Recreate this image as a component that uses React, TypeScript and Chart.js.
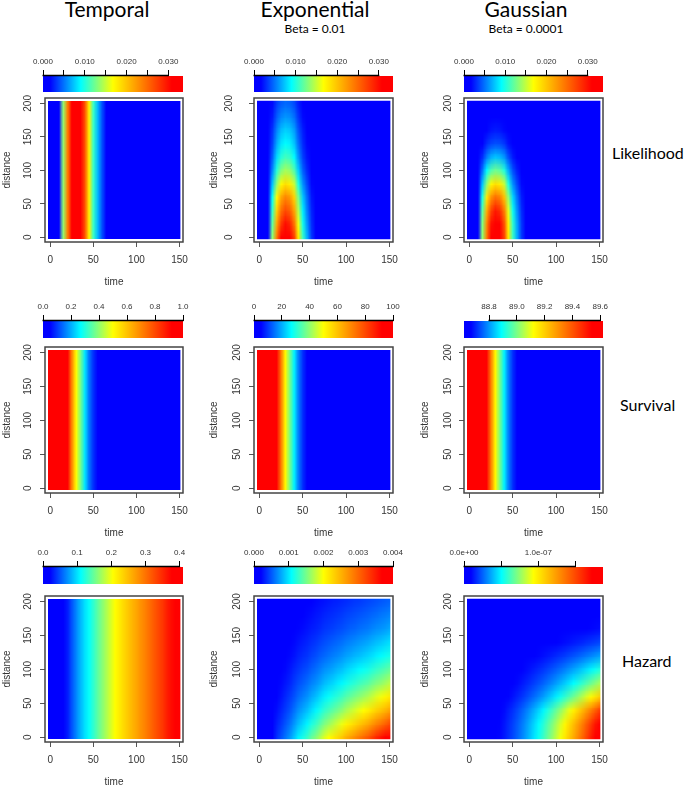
import { useEffect, useRef } from "react";
import { Chart, registerables } from "chart.js";

Chart.register(...registerables);

// ---------------- grids and axis ticks ----------------
const timePoints = [0, 5, 10, 15, 20, 25, 30, 35, 40, 45, 50, 55, 60, 65, 70, 75, 80, 85, 90, 95, 100, 105, 110, 115, 120, 125, 130, 135, 140, 145, 150];
const distancePoints = [0, 20, 40, 60, 80, 100, 120, 140, 160, 180, 200];
const timeAxisTicks = [0, 50, 100, 150];
const distanceAxisTicks = [0, 50, 100, 150, 200];

// ---------------- Likelihood (values in units of 1e-3) ----------------
const temporalLikelihoodE3 = [0, 0, 0, 13.4, 24.0, 31.0, 33.5, 32.0, 26.5, 17.5, 10.7, 7.0, 4.0, 1.7, 0.5, 0, 0, 0, 0, 0, 0, 0, 0, 0, 0, 0, 0, 0, 0, 0, 0];

const expLikelihoodE3 = [
  [0, 0, 0, 13.4, 24.0, 30.7, 33.4, 32.1, 27.4, 18.0, 10.7, 6.7, 3.3, 1.3, 0.3, 0, 0, 0, 0, 0, 0, 0, 0, 0, 0, 0, 0, 0, 0, 0, 0],
  [0, 0, 0, 12.0, 21.6, 27.7, 30.1, 28.9, 24.7, 16.2, 9.6, 6.0, 3.0, 1.2, 0.3, 0, 0, 0, 0, 0, 0, 0, 0, 0, 0, 0, 0, 0, 0, 0, 0],
  [0, 0, 0, 10.7, 19.2, 24.6, 26.7, 25.6, 21.9, 14.4, 8.6, 5.3, 2.7, 1.1, 0.3, 0, 0, 0, 0, 0, 0, 0, 0, 0, 0, 0, 0, 0, 0, 0, 0],
  [0, 0, 0, 9.4, 16.8, 21.5, 23.4, 22.4, 19.2, 12.6, 7.5, 4.7, 2.3, 0.9, 0.2, 0, 0, 0, 0, 0, 0, 0, 0, 0, 0, 0, 0, 0, 0, 0, 0],
  [0, 0, 0, 7.3, 13.2, 16.9, 18.4, 17.6, 15.1, 9.9, 5.9, 3.7, 1.8, 0.7, 0.2, 0, 0, 0, 0, 0, 0, 0, 0, 0, 0, 0, 0, 0, 0, 0, 0],
  [0, 0, 0, 5.6, 10.1, 12.9, 14.0, 13.5, 11.5, 7.6, 4.5, 2.8, 1.4, 0.6, 0.1, 0, 0, 0, 0, 0, 0, 0, 0, 0, 0, 0, 0, 0, 0, 0, 0],
  [0, 0, 0, 4.4, 7.9, 10.1, 11.0, 10.6, 9.0, 6.0, 3.5, 2.2, 1.1, 0.4, 0.1, 0, 0, 0, 0, 0, 0, 0, 0, 0, 0, 0, 0, 0, 0, 0, 0],
  [0, 0, 0, 3.6, 6.5, 8.3, 9.0, 8.7, 7.4, 4.9, 2.9, 1.8, 0.9, 0.4, 0.1, 0, 0, 0, 0, 0, 0, 0, 0, 0, 0, 0, 0, 0, 0, 0, 0],
  [0, 0, 0, 3.1, 5.5, 7.1, 7.7, 7.4, 6.3, 4.1, 2.5, 1.5, 0.8, 0.3, 0.1, 0, 0, 0, 0, 0, 0, 0, 0, 0, 0, 0, 0, 0, 0, 0, 0],
  [0, 0, 0, 2.4, 4.3, 5.5, 6.0, 5.8, 4.9, 3.2, 1.9, 1.2, 0.6, 0.2, 0.1, 0, 0, 0, 0, 0, 0, 0, 0, 0, 0, 0, 0, 0, 0, 0, 0],
  [0, 0, 0, 1.9, 3.4, 4.3, 4.7, 4.5, 3.8, 2.5, 1.5, 0.9, 0.5, 0.2, 0, 0, 0, 0, 0, 0, 0, 0, 0, 0, 0, 0, 0, 0, 0, 0, 0],
];

const gaussLikelihoodE3 = [
  [0, 0, 0, 13.5, 24.3, 31.0, 33.7, 32.4, 27.6, 18.2, 10.8, 6.7, 3.4, 1.3, 0.3, 0, 0, 0, 0, 0, 0, 0, 0, 0, 0, 0, 0, 0, 0, 0, 0],
  [0, 0, 0, 13.1, 23.5, 30.1, 32.7, 31.4, 26.8, 17.7, 10.5, 6.5, 3.3, 1.3, 0.3, 0, 0, 0, 0, 0, 0, 0, 0, 0, 0, 0, 0, 0, 0, 0, 0],
  [0, 0, 0, 11.9, 21.3, 27.3, 29.7, 28.5, 24.3, 16.0, 9.5, 5.9, 3.0, 1.2, 0.3, 0, 0, 0, 0, 0, 0, 0, 0, 0, 0, 0, 0, 0, 0, 0, 0],
  [0, 0, 0, 10.0, 18.0, 22.9, 24.9, 23.9, 20.4, 13.5, 8.0, 5.0, 2.5, 1.0, 0.3, 0, 0, 0, 0, 0, 0, 0, 0, 0, 0, 0, 0, 0, 0, 0, 0],
  [0, 0, 0, 7.4, 13.3, 17.1, 18.5, 17.8, 15.2, 10.0, 5.9, 3.7, 1.9, 0.7, 0.2, 0, 0, 0, 0, 0, 0, 0, 0, 0, 0, 0, 0, 0, 0, 0, 0],
  [0, 0, 0, 5.0, 9.0, 11.5, 12.5, 12.0, 10.2, 6.7, 4.0, 2.5, 1.2, 0.5, 0.1, 0, 0, 0, 0, 0, 0, 0, 0, 0, 0, 0, 0, 0, 0, 0, 0],
  [0, 0, 0, 3.0, 5.3, 6.8, 7.4, 7.1, 6.1, 4.0, 2.4, 1.5, 0.7, 0.3, 0.1, 0, 0, 0, 0, 0, 0, 0, 0, 0, 0, 0, 0, 0, 0, 0, 0],
  [0, 0, 0, 1.6, 2.9, 3.7, 4.0, 3.9, 3.3, 2.2, 1.3, 0.8, 0.4, 0.2, 0, 0, 0, 0, 0, 0, 0, 0, 0, 0, 0, 0, 0, 0, 0, 0, 0],
  [0, 0, 0, 0.9, 1.7, 2.2, 2.4, 2.3, 1.9, 1.3, 0.8, 0.5, 0.2, 0.1, 0, 0, 0, 0, 0, 0, 0, 0, 0, 0, 0, 0, 0, 0, 0, 0, 0],
  [0, 0, 0, 0.5, 1.0, 1.2, 1.3, 1.3, 1.1, 0.7, 0.4, 0.3, 0.1, 0, 0, 0, 0, 0, 0, 0, 0, 0, 0, 0, 0, 0, 0, 0, 0, 0, 0],
  [0, 0, 0, 0.3, 0.5, 0.6, 0.7, 0.6, 0.6, 0.4, 0.2, 0.1, 0.1, 0, 0, 0, 0, 0, 0, 0, 0, 0, 0, 0, 0, 0, 0, 0, 0, 0, 0],
];

// ---------------- Survival ----------------
const temporalSurvival = [1.0, 1.0, 0.99, 0.97, 0.92, 0.70, 0.50, 0.38, 0.25, 0.15, 0.09, 0.04, 0.02, 0.01, 0, 0, 0, 0, 0, 0, 0, 0, 0, 0, 0, 0, 0, 0, 0, 0, 0];
const expSurvival = [100, 100, 99, 97, 93, 72, 51, 38, 26, 16, 9, 4, 2, 1, 0, 0, 0, 0, 0, 0, 0, 0, 0, 0, 0, 0, 0, 0, 0, 0, 0];
const gaussSurvival = [89.62, 89.62, 89.61, 89.59, 89.54, 89.33, 89.13, 89.0, 88.88, 88.78, 88.71, 88.66, 88.64, 88.63, 88.62, 88.62, 88.62, 88.62, 88.62, 88.62, 88.62, 88.62, 88.62, 88.62, 88.62, 88.62, 88.62, 88.62, 88.62, 88.62, 88.62];

// ---------------- Hazard ----------------
const temporalHazard = [0, 0, 0.005, 0.015, 0.03, 0.05, 0.068, 0.085, 0.1, 0.113, 0.128, 0.145, 0.16, 0.175, 0.19, 0.205, 0.217, 0.23, 0.242, 0.254, 0.266, 0.279, 0.29, 0.303, 0.316, 0.328, 0.34, 0.356, 0.369, 0.381, 0.394];

// units of 1e-3
const expHazardE3 = [
  [0, 0.04, 0.08, 0.2, 0.36, 0.48, 0.6, 0.72, 0.88, 1.04, 1.16, 1.28, 1.44, 1.56, 1.72, 1.88, 2.0, 2.12, 2.24, 2.36, 2.52, 2.64, 2.76, 2.88, 3.0, 3.12, 3.28, 3.44, 3.56, 3.72, 3.88],
  [0, 0.03, 0.07, 0.16, 0.3, 0.39, 0.49, 0.59, 0.72, 0.85, 0.95, 1.05, 1.18, 1.28, 1.41, 1.54, 1.64, 1.74, 1.84, 1.94, 2.07, 2.16, 2.26, 2.36, 2.46, 2.56, 2.69, 2.82, 2.92, 3.05, 3.18],
  [0, 0.03, 0.05, 0.13, 0.24, 0.32, 0.4, 0.48, 0.59, 0.7, 0.78, 0.86, 0.96, 1.05, 1.15, 1.26, 1.34, 1.42, 1.5, 1.58, 1.69, 1.77, 1.85, 1.93, 2.01, 2.09, 2.2, 2.3, 2.39, 2.49, 2.6],
  [0, 0.02, 0.04, 0.11, 0.2, 0.26, 0.33, 0.4, 0.48, 0.57, 0.64, 0.7, 0.79, 0.86, 0.95, 1.03, 1.1, 1.17, 1.23, 1.3, 1.39, 1.45, 1.52, 1.58, 1.65, 1.72, 1.8, 1.89, 1.96, 2.05, 2.13],
  [0, 0.02, 0.04, 0.09, 0.16, 0.22, 0.27, 0.32, 0.4, 0.47, 0.52, 0.58, 0.65, 0.7, 0.77, 0.85, 0.9, 0.95, 1.01, 1.06, 1.13, 1.19, 1.24, 1.3, 1.35, 1.4, 1.48, 1.55, 1.6, 1.67, 1.75],
  [0, 0.01, 0.03, 0.07, 0.13, 0.18, 0.22, 0.27, 0.33, 0.38, 0.43, 0.47, 0.53, 0.58, 0.64, 0.7, 0.74, 0.78, 0.83, 0.87, 0.93, 0.98, 1.02, 1.07, 1.11, 1.15, 1.21, 1.27, 1.32, 1.38, 1.44],
  [0, 0.01, 0.02, 0.06, 0.11, 0.14, 0.18, 0.22, 0.26, 0.31, 0.35, 0.38, 0.43, 0.47, 0.52, 0.56, 0.6, 0.64, 0.67, 0.71, 0.76, 0.79, 0.83, 0.86, 0.9, 0.94, 0.98, 1.03, 1.07, 1.12, 1.16],
  [0, 0.01, 0.02, 0.05, 0.09, 0.12, 0.15, 0.18, 0.22, 0.26, 0.29, 0.32, 0.36, 0.39, 0.43, 0.47, 0.5, 0.53, 0.56, 0.59, 0.63, 0.66, 0.69, 0.72, 0.75, 0.78, 0.82, 0.86, 0.89, 0.93, 0.97],
  [0, 0.01, 0.02, 0.04, 0.07, 0.1, 0.12, 0.14, 0.18, 0.21, 0.23, 0.26, 0.29, 0.31, 0.34, 0.38, 0.4, 0.42, 0.45, 0.47, 0.5, 0.53, 0.55, 0.58, 0.6, 0.62, 0.66, 0.69, 0.71, 0.74, 0.78],
  [0, 0.01, 0.01, 0.03, 0.06, 0.08, 0.1, 0.12, 0.15, 0.18, 0.2, 0.22, 0.24, 0.27, 0.29, 0.32, 0.34, 0.36, 0.38, 0.4, 0.43, 0.45, 0.47, 0.49, 0.51, 0.53, 0.56, 0.58, 0.61, 0.63, 0.66],
  [0, 0.01, 0.01, 0.03, 0.05, 0.07, 0.08, 0.1, 0.12, 0.15, 0.16, 0.18, 0.2, 0.22, 0.24, 0.26, 0.28, 0.3, 0.31, 0.33, 0.35, 0.37, 0.39, 0.4, 0.42, 0.44, 0.46, 0.48, 0.5, 0.52, 0.54],
];

// units of 1e-8
const gaussHazardE8 = [
  [0, 0, 0.09, 0.19, 0.34, 0.52, 0.75, 1.01, 1.31, 1.68, 2.06, 2.51, 2.99, 3.52, 4.08, 4.68, 5.31, 5.98, 6.73, 7.48, 8.3, 9.16, 10.06, 11.0, 11.97, 12.98, 14.03, 15.15, 16.27, 17.47, 18.7],
  [0, 0, 0.09, 0.18, 0.32, 0.49, 0.71, 0.96, 1.24, 1.6, 1.96, 2.38, 2.84, 3.34, 3.88, 4.45, 5.04, 5.68, 6.39, 7.11, 7.89, 8.7, 9.56, 10.45, 11.37, 12.33, 13.33, 14.39, 15.46, 16.6, 17.77],
  [0, 0, 0.07, 0.16, 0.28, 0.43, 0.62, 0.83, 1.07, 1.38, 1.69, 2.06, 2.45, 2.89, 3.35, 3.84, 4.35, 4.9, 5.52, 6.13, 6.81, 7.51, 8.25, 9.02, 9.82, 10.64, 11.5, 12.42, 13.34, 14.33, 15.33],
  [0, 0, 0.05, 0.11, 0.2, 0.3, 0.44, 0.59, 0.76, 0.97, 1.19, 1.46, 1.73, 2.04, 2.37, 2.71, 3.08, 3.47, 3.9, 4.34, 4.81, 5.31, 5.83, 6.38, 6.94, 7.53, 8.14, 8.79, 9.44, 10.13, 10.85],
  [0, 0, 0.04, 0.08, 0.14, 0.22, 0.32, 0.42, 0.55, 0.71, 0.87, 1.05, 1.26, 1.48, 1.71, 1.97, 2.23, 2.51, 2.83, 3.14, 3.49, 3.85, 4.23, 4.62, 5.03, 5.45, 5.89, 6.36, 6.83, 7.34, 7.85],
  [0, 0, 0.03, 0.06, 0.1, 0.16, 0.23, 0.3, 0.39, 0.5, 0.62, 0.75, 0.9, 1.06, 1.22, 1.4, 1.59, 1.79, 2.02, 2.24, 2.49, 2.75, 3.02, 3.3, 3.59, 3.89, 4.21, 4.55, 4.88, 5.24, 5.61],
  [0, 0, 0.02, 0.04, 0.06, 0.1, 0.14, 0.19, 0.25, 0.32, 0.39, 0.48, 0.57, 0.67, 0.78, 0.89, 1.01, 1.14, 1.28, 1.42, 1.58, 1.74, 1.91, 2.09, 2.27, 2.47, 2.67, 2.88, 3.09, 3.32, 3.55],
  [0, 0, 0.01, 0.02, 0.04, 0.06, 0.08, 0.11, 0.14, 0.18, 0.23, 0.28, 0.33, 0.39, 0.45, 0.51, 0.58, 0.66, 0.74, 0.82, 0.91, 1.01, 1.11, 1.21, 1.32, 1.43, 1.54, 1.67, 1.79, 1.92, 2.06],
  [0, 0, 0.01, 0.01, 0.02, 0.03, 0.05, 0.06, 0.08, 0.1, 0.12, 0.15, 0.18, 0.21, 0.24, 0.28, 0.32, 0.36, 0.4, 0.45, 0.5, 0.55, 0.6, 0.66, 0.72, 0.78, 0.84, 0.91, 0.98, 1.05, 1.12],
  [0, 0, 0, 0.01, 0.01, 0.02, 0.02, 0.03, 0.04, 0.05, 0.06, 0.08, 0.09, 0.11, 0.12, 0.14, 0.16, 0.18, 0.2, 0.22, 0.25, 0.27, 0.3, 0.33, 0.36, 0.39, 0.42, 0.45, 0.49, 0.52, 0.56],
  [0, 0, 0, 0, 0.01, 0.01, 0.01, 0.02, 0.02, 0.03, 0.03, 0.04, 0.04, 0.05, 0.06, 0.07, 0.08, 0.09, 0.1, 0.11, 0.12, 0.14, 0.15, 0.17, 0.18, 0.19, 0.21, 0.23, 0.24, 0.26, 0.28],
];

// ---------------- colour-bar ranges, ticks and labels ----------------
const temporalLikelihoodRange = [0, 33.5];
const expLikelihoodRange = [0, 33.4];
const gaussLikelihoodRange = [0, 33.7];
const likelihoodBarTicks = [0, 5, 10, 15, 20, 25, 30];
const likelihoodBarLabels = ["0.000", "", "0.010", "", "0.020", "", "0.030"];

const temporalSurvivalRange = [0, 1.0];
const temporalSurvivalBarTicks = [0, 0.2, 0.4, 0.6, 0.8, 1.0];
const temporalSurvivalBarLabels = ["0.0", "0.2", "0.4", "0.6", "0.8", "1.0"];
const expSurvivalRange = [0, 100];
const expSurvivalBarTicks = [0, 20, 40, 60, 80, 100];
const expSurvivalBarLabels = ["0", "20", "40", "60", "80", "100"];
const gaussSurvivalRange = [88.62, 89.62];
const gaussSurvivalBarTicks = [88.8, 89.0, 89.2, 89.4, 89.6];
const gaussSurvivalBarLabels = ["88.8", "89.0", "89.2", "89.4", "89.6"];

const temporalHazardRange = [0, 0.41];
const temporalHazardBarTicks = [0, 0.1, 0.2, 0.3, 0.4];
const temporalHazardBarLabels = ["0.0", "0.1", "0.2", "0.3", "0.4"];
const expHazardRange = [0, 4.0];
const expHazardBarTicks = [0, 1, 2, 3, 4];
const expHazardBarLabels = ["0.000", "0.001", "0.002", "0.003", "0.004"];
const gaussHazardRange = [0, 18.7];
const gaussHazardBarTicks = [0, 5, 10, 15];
const gaussHazardBarLabels = ["0.0e+00", "", "1.0e-07", ""];

const columnTitles = ["Temporal", "Exponential", "Gaussian"];
const columnSubtitles = ["", "Beta = 0.01", "Beta = 0.0001"];
const rowTitles = ["Likelihood", "Survival", "Hazard"];

// ---------------- styling / layout ----------------
const AXIS_FONT = '"Liberation Sans", Arial, Helvetica, sans-serif';
const TITLE_FONT = 'Lato, "Open Sans", sans-serif';

const PALETTE = [
  [0, 0, 0, 255],
  [0.05, 0, 0, 255],
  [0.27, 0, 255, 255],
  [0.5, 255, 255, 0],
  [0.92, 255, 0, 0],
  [1, 255, 0, 0],
];

const FRAME_X = [[45, 183], [254, 393], [464, 603]];
const FRAME_Y = [[98, 242], [347, 493], [596, 742]];
const BAR_X = [[43, 183], [254, 393], [464, 603]];
const BAR_Y = [[76, 92], [321, 338], [567, 584]];
const Y_AXIS_W = [44, 46, 45];
// gap from frame left edge to the centre of the rotated y tick labels, per [row][col]
const Y_LABEL_GAP = [
  [17, 25, 16],
  [17, 17, 16],
  [17, 17, 16],
];
const X_AXIS_H = 46;
const PAD_T = 10;
const PAD_R = 14;
const CB_AXIS_H = 22;
const CB_PAD = 26;
const FRAME_T_RANGE = [-6, 154];
const FRAME_D_RANGE = [-7, 208];
const COLOR_T = [-3, 151];
const COLOR_D = [-3, 204];

type PanelDef = {
  row: number;
  col: number;
  values: number[] | number[][];
  range: number[];
  barTicks: number[];
  barLabels: string[];
};

const PANELS: PanelDef[] = [
  { row: 0, col: 0, values: temporalLikelihoodE3, range: temporalLikelihoodRange, barTicks: likelihoodBarTicks, barLabels: likelihoodBarLabels },
  { row: 0, col: 1, values: expLikelihoodE3, range: expLikelihoodRange, barTicks: likelihoodBarTicks, barLabels: likelihoodBarLabels },
  { row: 0, col: 2, values: gaussLikelihoodE3, range: gaussLikelihoodRange, barTicks: likelihoodBarTicks, barLabels: likelihoodBarLabels },
  { row: 1, col: 0, values: temporalSurvival, range: temporalSurvivalRange, barTicks: temporalSurvivalBarTicks, barLabels: temporalSurvivalBarLabels },
  { row: 1, col: 1, values: expSurvival, range: expSurvivalRange, barTicks: expSurvivalBarTicks, barLabels: expSurvivalBarLabels },
  { row: 1, col: 2, values: gaussSurvival, range: gaussSurvivalRange, barTicks: gaussSurvivalBarTicks, barLabels: gaussSurvivalBarLabels },
  { row: 2, col: 0, values: temporalHazard, range: temporalHazardRange, barTicks: temporalHazardBarTicks, barLabels: temporalHazardBarLabels },
  { row: 2, col: 1, values: expHazardE3, range: expHazardRange, barTicks: expHazardBarTicks, barLabels: expHazardBarLabels },
  { row: 2, col: 2, values: gaussHazardE8, range: gaussHazardRange, barTicks: gaussHazardBarTicks, barLabels: gaussHazardBarLabels },
];

function paletteRGB(p: number): number[] {
  const q = Math.min(1, Math.max(0, p));
  for (let i = 1; i < PALETTE.length; i++) {
    const a = PALETTE[i - 1];
    const b = PALETTE[i];
    if (q <= b[0]) {
      const f = b[0] === a[0] ? 0 : (q - a[0]) / (b[0] - a[0]);
      return [
        Math.round(a[1] + (b[1] - a[1]) * f),
        Math.round(a[2] + (b[2] - a[2]) * f),
        Math.round(a[3] + (b[3] - a[3]) * f),
      ];
    }
  }
  return [255, 0, 0];
}

function cellEdges(pts: number[], i: number): [number, number] {
  const lo = i === 0 ? pts[0] - (pts[1] - pts[0]) / 2 : (pts[i - 1] + pts[i]) / 2;
  const hi = i === pts.length - 1 ? pts[i] + (pts[i] - pts[i - 1]) / 2 : (pts[i] + pts[i + 1]) / 2;
  return [lo, hi];
}

type Cell = { x: number; y: number; v: number; i: number; j: number };

function buildCells(values: number[] | number[][]): { cells: Cell[]; rows: number } {
  const cells: Cell[] = [];
  if (!Array.isArray(values[0])) {
    const vals = values as number[];
    timePoints.forEach((t, i) => cells.push({ x: t, y: 100, v: vals[i], i, j: 0 }));
    return { cells, rows: 1 };
  }
  const grid = values as number[][];
  distancePoints.forEach((d, j) => {
    timePoints.forEach((t, i) => cells.push({ x: t, y: d, v: grid[j][i], i, j }));
  });
  return { cells, rows: distancePoints.length };
}

function Panel({ def }: { def: PanelDef }) {
  const heatRef = useRef<HTMLCanvasElement>(null);
  const barRef = useRef<HTMLCanvasElement>(null);
  const { row, col } = def;
  const [fl, fr] = FRAME_X[col];
  const [ft, fb] = FRAME_Y[row];
  const yW = Y_AXIS_W[col];
  const heatBox = { left: fl - yW, top: ft - PAD_T, width: yW + (fr - fl) + PAD_R, height: PAD_T + (fb - ft) + X_AXIS_H };
  const [bl, br] = BAR_X[col];
  const [bt, bb] = BAR_Y[row];
  const barBox = { left: bl - CB_PAD, top: bt - CB_AXIS_H, width: br - bl + 2 * CB_PAD, height: CB_AXIS_H + (bb - bt) };

  useEffect(() => {
    const zmin = def.range[0];
    const zmax = def.range[1];
    const { cells, rows } = buildCells(def.values);
    const cols = timePoints.length;
    const tSpan = [cellEdges(timePoints, 0)[0], cellEdges(timePoints, cols - 1)[1]];
    const dSpan = rows === 1 ? COLOR_D : [cellEdges(distancePoints, 0)[0], cellEdges(distancePoints, rows - 1)[1]];

    // one raster pixel per data cell
    const raster = document.createElement("canvas");
    raster.width = cols;
    raster.height = rows;
    let rasterReady = false;

    const heatPlugin = {
      id: "heatCells",
      beforeDatasetsDraw(chart: any) {
        const { ctx } = chart;
        const xs = chart.scales.x;
        const ys = chart.scales.y;
        if (!rasterReady) {
          const rctx = raster.getContext("2d") as CanvasRenderingContext2D;
          const img = rctx.createImageData(cols, rows);
          for (const c of chart.data.datasets[0].data as Cell[]) {
            const rgb = paletteRGB((c.v - zmin) / (zmax - zmin));
            const k = ((rows - 1 - c.j) * cols + c.i) * 4;
            img.data[k] = rgb[0];
            img.data[k + 1] = rgb[1];
            img.data[k + 2] = rgb[2];
            img.data[k + 3] = 255;
          }
          rctx.putImageData(img, 0, 0);
          rasterReady = true;
        }
        const L = xs.getPixelForValue(COLOR_T[0]);
        const R = xs.getPixelForValue(COLOR_T[1]);
        const T = ys.getPixelForValue(COLOR_D[1]);
        const B = ys.getPixelForValue(COLOR_D[0]);
        const X0 = xs.getPixelForValue(tSpan[0]);
        const X1 = xs.getPixelForValue(tSpan[1]);
        const Y0 = ys.getPixelForValue(dSpan[1]);
        const Y1 = ys.getPixelForValue(dSpan[0]);
        ctx.save();
        ctx.beginPath();
        ctx.rect(L, T, R - L, B - T);
        ctx.clip();
        ctx.imageSmoothingEnabled = true;
        ctx.imageSmoothingQuality = "low";
        ctx.drawImage(raster, X0, Y0, X1 - X0, Y1 - Y0);
        ctx.restore();
      },
      afterDraw(chart: any) {
        const { ctx, chartArea } = chart;
        const ys = chart.scales.y;
        ctx.save();
        ctx.strokeStyle = "#444";
        ctx.lineWidth = 1.5;
        ctx.strokeRect(chartArea.left, chartArea.top, chartArea.right - chartArea.left, chartArea.bottom - chartArea.top);
        // rotated y tick labels (R style: parallel to the axis)
        ctx.fillStyle = "#333";
        ctx.font = `10px ${AXIS_FONT}`;
        ctx.textAlign = "center";
        ctx.textBaseline = "middle";
        const cx = chartArea.left - Y_LABEL_GAP[row][col];
        for (const v of distanceAxisTicks) {
          const y = ys.getPixelForValue(v);
          ctx.save();
          ctx.translate(cx, y);
          ctx.rotate(-Math.PI / 2);
          ctx.fillText(String(v), 0, 0);
          ctx.restore();
        }
        ctx.restore();
      },
    };

    const axisFont = { family: AXIS_FONT, size: 10 };
    const heat = new Chart(heatRef.current as HTMLCanvasElement, {
      type: "scatter",
      data: { datasets: [{ data: cells as any, pointRadius: 0, pointHoverRadius: 0 }] },
      options: {
        responsive: false,
        animation: false,
        events: [],
        layout: { padding: { left: 0, top: PAD_T, right: PAD_R, bottom: 0 } },
        plugins: { legend: { display: false }, tooltip: { enabled: false } },
        scales: {
          x: {
            type: "linear",
            min: FRAME_T_RANGE[0],
            max: FRAME_T_RANGE[1],
            afterBuildTicks: (s: any) => {
              s.ticks = timeAxisTicks.map((v) => ({ value: v }));
            },
            afterFit: (s: any) => {
              s.height = X_AXIS_H;
            },
            grid: { drawOnChartArea: false, drawTicks: true, tickLength: 5, color: "#555", lineWidth: 1 },
            border: { display: false },
            ticks: { autoSkip: false, maxRotation: 0, minRotation: 0, padding: 7, color: "#333", font: axisFont },
            title: { display: true, text: "time", color: "#333", font: axisFont, padding: 0 },
          },
          y: {
            type: "linear",
            min: FRAME_D_RANGE[0],
            max: FRAME_D_RANGE[1],
            afterBuildTicks: (s: any) => {
              s.ticks = distanceAxisTicks.map((v) => ({ value: v }));
            },
            afterFit: (s: any) => {
              s.width = yW;
            },
            grid: { drawOnChartArea: false, drawTicks: true, tickLength: 5, color: "#555", lineWidth: 1 },
            border: { display: false },
            ticks: { display: false },
            title: { display: true, text: "distance", color: "#333", font: axisFont, padding: 0 },
          },
        },
      } as any,
      plugins: [heatPlugin],
    });

    const barPlugin = {
      id: "colourBar",
      beforeDatasetsDraw(chart: any) {
        const { ctx, chartArea } = chart;
        const xs = chart.scales.x;
        const g = ctx.createLinearGradient(xs.getPixelForValue(zmin), 0, xs.getPixelForValue(zmax), 0);
        PALETTE.forEach((s) => g.addColorStop(s[0], `rgb(${s[1]},${s[2]},${s[3]})`));
        ctx.save();
        ctx.fillStyle = g;
        ctx.fillRect(chartArea.left, chartArea.top, chartArea.right - chartArea.left, chartArea.bottom - chartArea.top);
        ctx.restore();
      },
      afterDraw(chart: any) {
        const { ctx, chartArea } = chart;
        const xs = chart.scales.x;
        const ticks = def.barTicks;
        ctx.save();
        ctx.strokeStyle = "#000";
        ctx.lineWidth = 1.5;
        ctx.beginPath();
        ctx.moveTo(xs.getPixelForValue(ticks[0]) - 0.5, chartArea.top - 0.5);
        ctx.lineTo(xs.getPixelForValue(ticks[ticks.length - 1]) + 0.5, chartArea.top - 0.5);
        ctx.stroke();
        ctx.restore();
      },
    };

    const bar = new Chart(barRef.current as HTMLCanvasElement, {
      type: "scatter",
      data: { datasets: [{ data: [], pointRadius: 0 }] },
      options: {
        responsive: false,
        animation: false,
        events: [],
        layout: { padding: { left: CB_PAD, right: CB_PAD, top: 0, bottom: 0 } },
        plugins: { legend: { display: false }, tooltip: { enabled: false } },
        scales: {
          x: {
            type: "linear",
            position: "top",
            min: zmin,
            max: zmax,
            afterBuildTicks: (s: any) => {
              s.ticks = def.barTicks.map((v) => ({ value: v }));
            },
            afterFit: (s: any) => {
              s.height = CB_AXIS_H;
            },
            grid: { drawOnChartArea: false, drawTicks: true, tickLength: 6, color: "#000", lineWidth: 1 },
            border: { display: false },
            ticks: {
              autoSkip: false,
              maxRotation: 0,
              minRotation: 0,
              padding: 3,
              color: "#333",
              font: { family: AXIS_FONT, size: 8 },
              callback: (_v: any, i: number) => def.barLabels[i],
            },
          },
          y: { display: false, min: 0, max: 1 },
        },
      } as any,
      plugins: [barPlugin],
    });

    return () => {
      heat.destroy();
      bar.destroy();
    };
  }, []);

  return (
    <>
      <canvas
        ref={barRef}
        width={barBox.width}
        height={barBox.height}
        style={{ position: "absolute", left: barBox.left, top: barBox.top, width: barBox.width, height: barBox.height }}
      />
      <canvas
        ref={heatRef}
        width={heatBox.width}
        height={heatBox.height}
        style={{ position: "absolute", left: heatBox.left, top: heatBox.top, width: heatBox.width, height: heatBox.height }}
      />
    </>
  );
}

const TITLE_CENTER_X = [107, 315, 526];
const ROW_TITLE_POS = [
  [612, 145],
  [620, 397],
  [622, 653],
];

export default function App() {
  return (
    <div style={{ position: "absolute", left: 0, top: 0, width: 685, height: 786, background: "#fff", overflow: "hidden" }}>
      {columnTitles.map((t, i) => (
        <div
          key={t}
          style={{
            position: "absolute",
            left: TITLE_CENTER_X[i] - 100,
            width: 200,
            top: -2,
            textAlign: "center",
            fontFamily: TITLE_FONT,
            fontSize: 21,
            lineHeight: "21px",
            color: "#000",
            whiteSpace: "nowrap",
          }}
        >
          {t}
        </div>
      ))}
      {columnSubtitles.map((t, i) =>
        t ? (
          <div
            key={t}
            style={{
              position: "absolute",
              left: TITLE_CENTER_X[i] - 100,
              width: 200,
              top: 23,
              textAlign: "center",
              fontFamily: TITLE_FONT,
              fontSize: 12,
              lineHeight: "12px",
              color: "#000",
              whiteSpace: "nowrap",
            }}
          >
            {t}
          </div>
        ) : null
      )}
      {rowTitles.map((t, i) => (
        <div
          key={t}
          style={{
            position: "absolute",
            left: ROW_TITLE_POS[i][0],
            top: ROW_TITLE_POS[i][1],
            fontFamily: TITLE_FONT,
            fontSize: 16,
            lineHeight: "16px",
            color: "#000",
            whiteSpace: "nowrap",
          }}
        >
          {t}
        </div>
      ))}
      {PANELS.map((p) => (
        <Panel key={`${p.row}-${p.col}`} def={p} />
      ))}
    </div>
  );
}
